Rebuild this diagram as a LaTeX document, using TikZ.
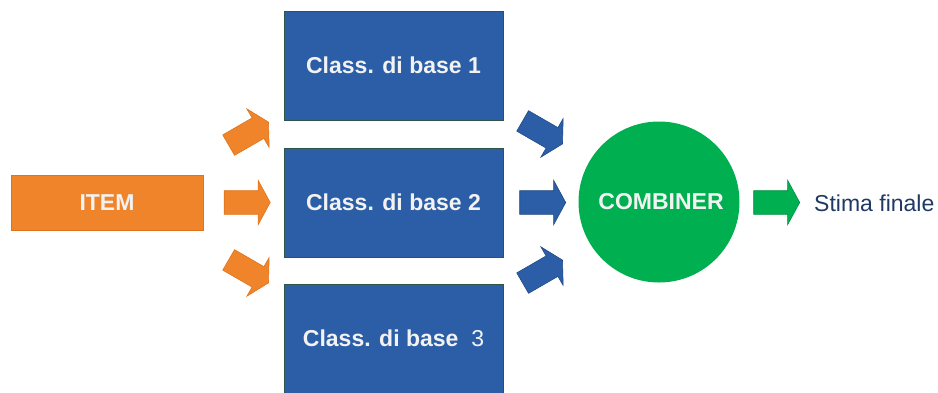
\documentclass[tikz,border=0pt]{standalone}
\usepackage{fontspec}
\setmainfont{Liberation Sans}
\usetikzlibrary{shapes.arrows}
\definecolor{clsblue}{HTML}{2B5EA7}
\definecolor{clsedge}{HTML}{2F5548}
\definecolor{itemorange}{HTML}{F0842A}
\definecolor{orangeedge}{HTML}{E0741E}
\definecolor{combgreen}{HTML}{00B050}
\definecolor{greenedge}{HTML}{009040}
\definecolor{navytext}{HTML}{1F3864}
\definecolor{paletext}{HTML}{F2F2F2}
\tikzset{
  txt/.style={font=\fontsize{23}{27}\selectfont},
  clsbox/.style={draw=clsedge, line width=0.8pt, fill=clsblue, minimum width=219pt,
    minimum height=109pt, inner sep=0pt, text=paletext, txt},
  blockarrow/.style={single arrow, minimum height=46pt,
    single arrow head extend=10.5pt, single arrow tip angle=123, inner sep=0pt,
    line width=0.6pt},
  orangearrow/.style={blockarrow, fill=itemorange, draw=orangeedge},
  bluearrow/.style={blockarrow, fill=clsblue, draw=clsblue!80!black},
  greenarrow/.style={blockarrow, fill=combgreen, draw=greenedge},
}
% shaft thickness of the block arrows
\newcommand{\shaft}{\rule{0pt}{23pt}}
\begin{document}
\begin{tikzpicture}[x=1pt, y=-1pt]
  \useasboundingbox (0,0) rectangle (938,392);
  \clip (0,0) rectangle (938,392);

  % input item
  \node[draw=orangeedge, line width=0.8pt, fill=itemorange, minimum width=192pt,
    minimum height=55pt, inner sep=0pt, text=paletext, txt] (item) at (107,202.5)
    {\textbf{ITEM}};

  % base classifiers
  \node[clsbox] (c1) at (393.5,65.5) {\textbf{Class. di base 1}};
  \node[clsbox] (c2) at (393.5,202.5) {\textbf{Class. di base 2}};
  \node[clsbox] (c3) at (393.5,338.5) {\textbf{Class. di base}\ \ 3};

  % combiner
  \node[circle, fill=combgreen, minimum size=161pt, inner sep=0pt, text=paletext, txt]
    (comb) at (659,202) {\hspace*{4pt}\textbf{COMBINER}};

  % block arrows item -> classifiers
  \node[orangearrow, rotate=30] (a1) at (245.8,135.2) {\shaft};
  \node[orangearrow] (a2) at (244,202.5) {\shaft};
  \node[orangearrow, rotate=-30] (a3) at (245.8,269.8) {\shaft};

  % block arrows classifiers -> combiner
  \node[bluearrow, rotate=-30] (b1) at (539.8,130.8) {\shaft};
  \node[bluearrow] (b2) at (539.5,202.5) {\shaft};
  \node[bluearrow, rotate=30] (b3) at (539.8,273.2) {\shaft};

  % output
  \node[greenarrow] (g) at (773.5,202.5) {\shaft};
  \node[anchor=west, inner sep=0pt, text=navytext, txt] (out) at (814,203) {Stima finale};
\end{tikzpicture}
\end{document}
